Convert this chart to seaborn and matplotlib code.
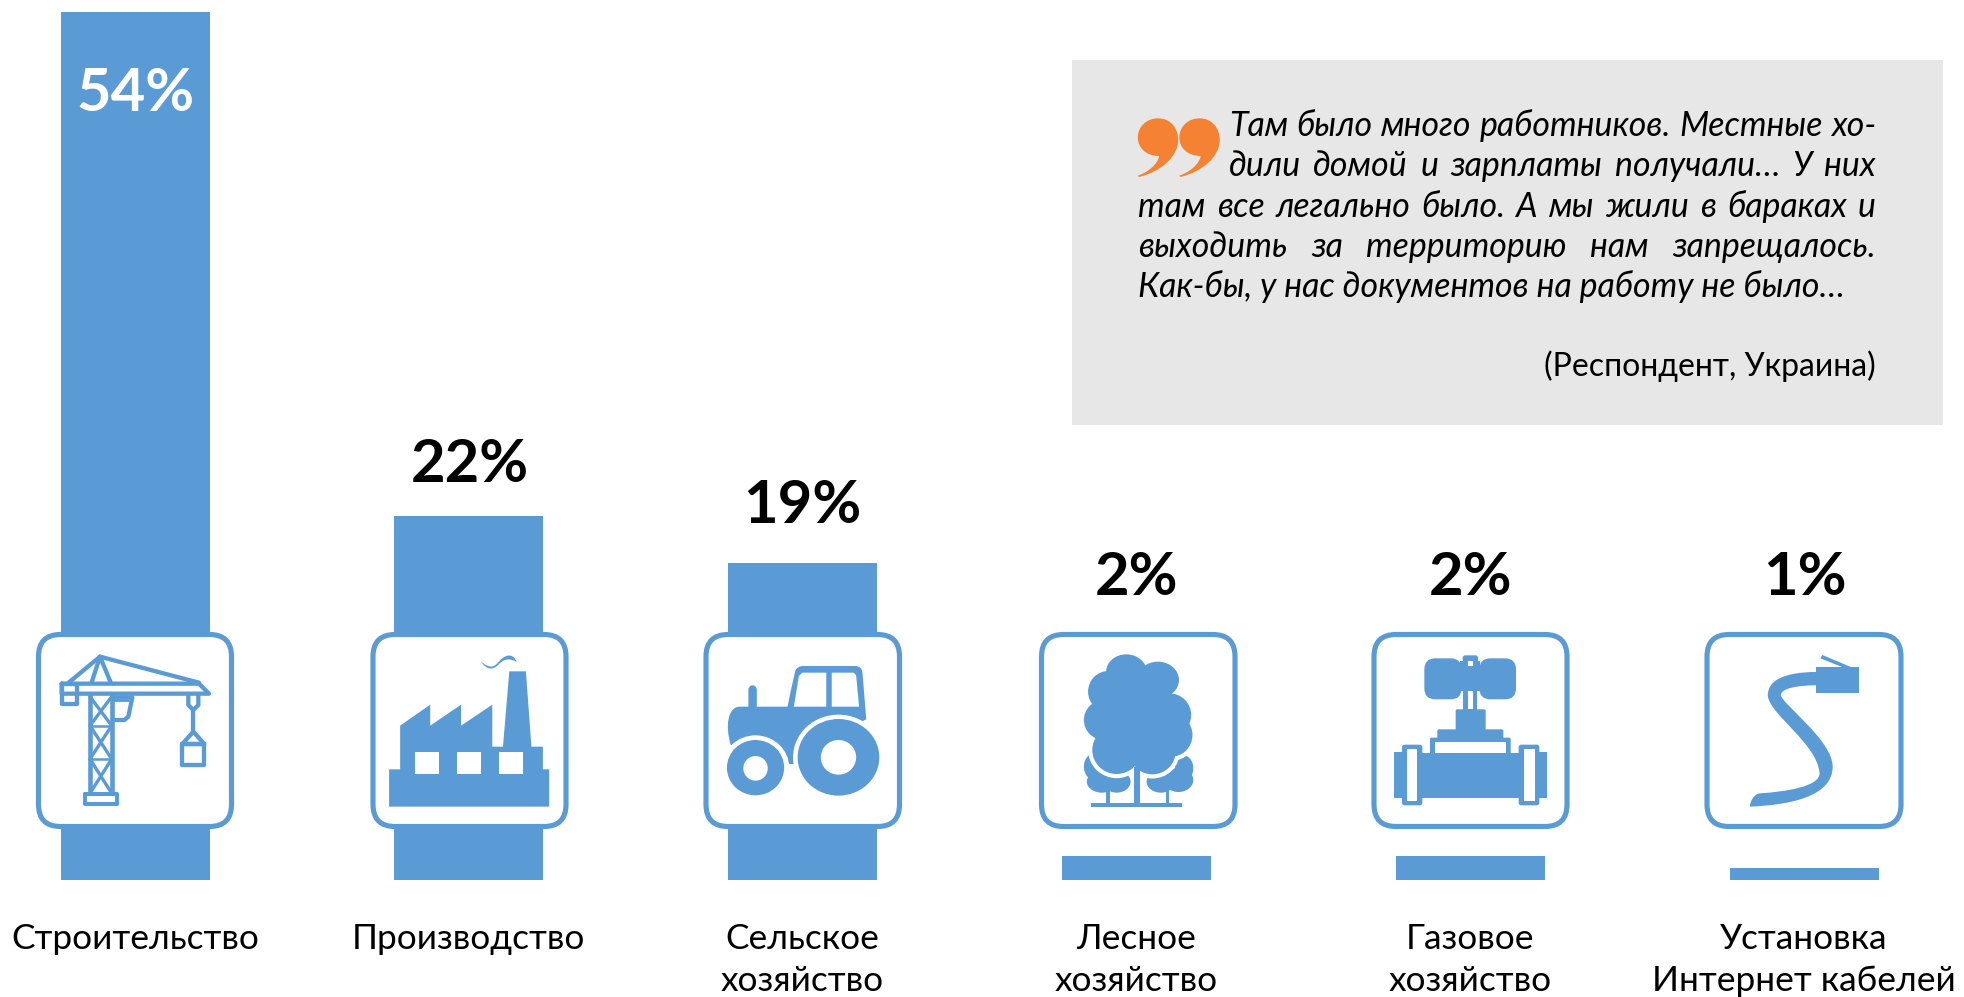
import numpy as np
import pandas as pd
import matplotlib
matplotlib.use("Agg")
import matplotlib.pyplot as plt
import seaborn as sns
from matplotlib.path import Path
from matplotlib.patches import PathPatch, Rectangle, Ellipse, FancyBboxPatch, Polygon

categories = ["Строительство", "Производство", "Сельское\nхозяйство", "Лесное\nхозяйство",
              "Газовое\nхозяйство", "Установка\nИнтернет кабелей"]
percent_labels = ["54%", "22%", "19%", "2%", "2%", "1%"]
# bar heights as drawn in the picture (the source infographic is not strictly to scale)
bar_heights = [54.0, 22.6, 19.7, 1.45, 1.45, 0.7]
quote_lines = ["Там было много работников. Местные хо-",
               "дили домой и зарплаты получали… У них",
               "там все легально было. А мы жили в бараках и",
               "выходить за территорию нам запрещалось.",
               "Как-бы, у нас документов на работу не было…"]
quote_source = "(Респондент, Украина)"

BLUE = "#5B9BD5"
ORANGE = "#F58233"
GREY = "#E7E7E7"
W, H = 1964, 997
BASE = 879.5
FONT = ["Lato", "Open Sans", "DejaVu Sans"]

sns.set_theme(style="white")
plt.rcParams["font.family"] = FONT
fig = plt.figure(figsize=(W / 100, H / 100), dpi=100, facecolor="white")

ax = fig.add_axes([0, (H - BASE) / H, 1, BASE / H])
df = pd.DataFrame({"cat": categories, "val": bar_heights})
sns.barplot(data=df, x="cat", y="val", color=BLUE, saturation=1, width=149 / 333.8, linewidth=0, ax=ax)
ax.set_xlim((0 - 135) / 333.8, (W - 135) / 333.8)
ax.set_ylim(0, BASE / 16.07)
ax.set_xlabel(""); ax.set_ylabel(""); ax.set_yticks([])
ax.tick_params(axis="x", length=0, pad=31, labelsize=25.4, labelcolor="black")
for t in ax.get_xticklabels():
    t.set_linespacing(1.42)
sns.despine(ax=ax, left=True, bottom=True, top=True, right=True)
ax.patch.set_alpha(0)

ov = fig.add_axes([0, 0, 1, 1], zorder=5)
ov.set_xlim(0, W); ov.set_ylim(H, 0); ov.axis("off"); ov.patch.set_alpha(0)

# ---- percent labels
label_pos = [(136, 94, "white"), (469.5, 465, "black"), (802.5, 506, "black"),
             (1137, 578, "black"), (1470.5, 578, "black"), (1805, 578, "black")]
for (x, y, c), s in zip(label_pos, percent_labels):
    ov.text(x, y, s, ha="center", va="center", fontsize=43, fontweight="bold", color=c)

# ---- quote panel
ov.add_patch(Rectangle((1072, 60), 871, 365, fc=GREY, ec="none"))
renderer = fig.canvas.get_renderer()
QS = 24.4

def word_width(s):
    t = ov.text(0, 0, s, fontsize=QS, style="italic")
    bb = t.get_window_extent(renderer)
    t.remove()
    return bb.width

left = [1229, 1229, 1138.5, 1138.5, 1138.5]
base_y = [136.5, 176.5, 216.5, 256.5, 296.5]
for i, line_txt in enumerate(quote_lines):
    words = line_txt.split()
    if i == 4:
        ov.text(left[i], base_y[i], line_txt, fontsize=QS, style="italic", color="black", va="baseline")
        continue
    ww = [word_width(w) for w in words]
    gap = (1876 - left[i] - sum(ww)) / (len(words) - 1)
    x = left[i]
    for w, wd in zip(words, ww):
        ov.text(x, base_y[i], w, fontsize=QS, style="italic", color="black", va="baseline")
        x += wd + gap
ov.text(1876, 376, quote_source, fontsize=23, color="black", ha="right", va="baseline")

# ---- icon frames
frames = [(36, 234), (370.5, 568.5), (703.5, 902), (1039, 1237.5), (1371.5, 1569.5), (1704.5, 1903.5)]
for l, r in frames:
    ov.add_patch(FancyBboxPatch((l + 2.5 + 20, 634.5 + 20), r - l - 5 - 40, 192 - 40,
                                boxstyle="round,pad=20,rounding_size=22", fc="white", ec=BLUE, lw=3.7))

# crop coordinates -> pixels
def mk(xoff, width, yoff=600):
    k = 1568 / width
    return (lambda x: xoff + x / k), (lambda y: yoff + y / 3), k

def mk3(xoff, yoff):
    return (lambda x: xoff + x / 3), (lambda y: yoff + y / 3), 3

def poly(pts, T, c=BLUE, **kw):
    fx, fy, _ = T
    ov.add_patch(Polygon([(fx(x), fy(y)) for x, y in pts], closed=True, fc=c, ec="none", **kw))

def rect(x0, y0, x1, y1, T, c=BLUE):
    poly([(x0, y0), (x1, y0), (x1, y1), (x0, y1)], T, c)

def rrect(x0, y0, x1, y1, T, r=10, c=BLUE):
    fx, fy, _ = T
    X0, Y0, X1, Y1 = fx(x0), fy(y0), fx(x1), fy(y1)
    ov.add_patch(FancyBboxPatch((X0 + r, Y0 + r), X1 - X0 - 2 * r, Y1 - Y0 - 2 * r,
                                boxstyle=f"round,pad={r},rounding_size={r}", fc=c, ec="none"))

def ell(cx, cy, rx, ry, T, c=BLUE, halo=0):
    fx, fy, k = T
    ov.add_patch(Ellipse((fx(cx), fy(cy)), 2 * rx / k, 2 * ry / 3, fc=c,
                         ec="white" if halo else "none", lw=halo))

def line(pts, T, lw=3.1, closed=False):
    fx, fy, _ = T
    xy = [(fx(x), fy(y)) for x, y in pts]
    if closed:
        xy.append(xy[0])
    ov.plot(*zip(*xy), color=BLUE, lw=lw, solid_joinstyle="round", solid_capstyle="round")

def curve(start, segs, T, c=BLUE):
    fx, fy, _ = T
    v = [(fx(start[0]), fy(start[1]))]
    codes = [Path.MOVETO]
    for a, b, d in segs:
        v += [(fx(p[0]), fy(p[1])) for p in (a, b, d)]
        codes += [Path.CURVE4] * 3
    v.append(v[0]); codes.append(Path.CLOSEPOLY)
    ov.add_patch(PathPatch(Path(v, codes), fc=c, ec="none"))

# orange quotation mark (graphic)
T = mk(1060, 904, 50)
for dx in (0, 72):
    curve((170 + dx, 205), [((192 + dx, 205), (205 + dx, 235), (205 + dx, 270)),
                            ((205 + dx, 320), (175 + dx, 365), (137 + dx, 381)),
                            ((136 + dx, 380), (136 + dx, 378), (135 + dx, 377)),
                            ((155 + dx, 365), (170 + dx, 340), (172 + dx, 318)),
                            ((150 + dx, 318), (135 + dx, 295), (135 + dx, 262)),
                            ((135 + dx, 230), (150 + dx, 205), (170 + dx, 205))], T, ORANGE)

# crane
T = mk3(45, 640)
line([(50, 131), (462, 131), (492, 161), (50, 161)], T, closed=True)
line([(50, 131), (97, 131), (97, 193), (50, 193)], T, closed=True)
line([(72, 127), (165, 50), (462, 128)], T)
line([(140, 127), (165, 50), (197, 127)], T)
line([(135, 165), (135, 460)], T, lw=3.3); line([(200, 165), (200, 460)], T, lw=3.3)
for y0, y1 in [(170, 257), (257, 357), (357, 460)]:
    line([(135, y0), (200, y1)], T, lw=2.4); line([(200, y0), (135, y1)], T, lw=2.4)
    line([(135, y1), (200, y1)], T, lw=1.8)
line([(120, 462), (216, 462), (216, 492), (120, 492)], T, lw=2.9, closed=True)
line([(207, 172), (262, 172), (250, 230), (238, 240), (207, 240)], T)
line([(207, 180), (250, 180)], T, lw=2.0)
line([(430, 165), (430, 195), (445, 210), (460, 195), (460, 165)], T)
line([(445, 210), (445, 275)], T)
line([(445, 275), (412, 312), (478, 312)], T, closed=True)
line([(412, 312), (478, 312), (478, 375), (412, 375)], T, closed=True)

# factory
T = mk(0, 620)
poly([(984, 620), (984, 508), (1012, 508), (1012, 377), (1088, 314), (1088, 377), (1166, 314),
      (1166, 377), (1245, 314), (1245, 440), (1272, 440), (1288, 214), (1330, 214), (1344, 440),
      (1373, 440), (1373, 508), (1389, 508), (1389, 620)], T)
for a, b in [(1050, 1110), (1155, 1216), (1262, 1323)]:
    rect(a, 457, b, 523, T, "white")
curve((1216, 184), [((1240, 208), (1250, 203), (1265, 180)), ((1285, 158), (1300, 165), (1307, 186)),
                    ((1290, 174), (1275, 176), (1262, 192)), ((1245, 214), (1230, 208), (1216, 184))], T)

# tractor
T = mk(660, 660)
curve((168, 435), [((155, 380), (160, 320), (190, 320)), ((195, 320), (205, 320), (210, 320)),
                   ((210, 300), (210, 285), (210, 268)), ((212, 252), (228, 252), (230, 268)),
                   ((230, 285), (230, 300), (230, 320)), ((260, 320), (280, 320), (303, 320)),
                   ((308, 285), (315, 250), (321, 215)), ((323, 205), (330, 198), (340, 198)),
                   ((380, 198), (420, 198), (462, 198)), ((475, 198), (480, 205), (481, 218)),
                   ((484, 265), (487, 310), (490, 358)), ((420, 400), (370, 440), (318, 490)),
                   ((270, 480), (220, 455), (168, 435))], T)
rect(300, 440, 320, 492, T)
poly([(318, 320), (330, 228), (338, 218), (395, 218), (395, 320)], T, "white")
poly([(408, 218), (460, 218), (466, 226), (473, 320), (408, 320)], T, "white")
ell(424, 472, 108, 128, T, "white"); ell(424, 472, 97, 115, T); ell(424, 472, 42, 52, T, "white")
ell(227, 503, 80, 97, T, "white"); ell(227, 503, 68, 83, T); ell(227, 505, 29, 37, T, "white")

# tree
T = mk(660, 660)
rect(1060, 570, 1068, 612, T); rect(1202, 570, 1210, 612, T)
for e in [(1035, 500, 28, 42), (1050, 545, 36, 33), (1085, 545, 33, 33),
          (1245, 505, 22, 38), (1232, 540, 35, 36), (1190, 545, 34, 33)]:
    ell(*e, T)
canopy = [(1108, 215, 48, 52), (1183, 240, 50, 55), (1065, 275, 48, 62), (1210, 345, 52, 65),
          (1055, 360, 48, 60), (1215, 405, 50, 65), (1085, 450, 58, 72), (1170, 455, 55, 68),
          (1130, 350, 100, 130)]
for e in canopy:
    ell(*e, T, halo=6)
for e in canopy:
    ell(*e, T)
rect(1125, 500, 1140, 612, T); rect(1025, 610, 1240, 620, T)

# valve
T = mk3(1380, 640)
rrect(133, 55, 245, 178, T, r=11); rrect(298, 55, 408, 178, T, r=11)
rect(240, 64, 300, 152, T)
rrect(248, 46, 294, 85, T, r=2.5); rect(263, 63, 278, 78, T, "white")
rect(250, 150, 292, 212, T); rect(263, 152, 278, 208, T, "white")
rrect(227, 208, 317, 272, T, r=1.5); rrect(172, 268, 370, 298, T, r=1.5); rrect(150, 293, 392, 345, T, r=1.5)
rect(165, 307, 378, 338, T, "white")
rect(125, 338, 418, 475, T)
rect(42, 337, 66, 473, T); rrect(66, 314, 127, 496, T, r=2.5); rect(80, 328, 112, 482, T, "white")
rect(478, 337, 500, 473, T); rrect(416, 314, 478, 496, T, r=2.5); rect(432, 328, 464, 482, T, "white")

# cable
T = mk(1340, 624)
rect(1197, 202, 1304, 280, T)
poly([(1212, 165), (1288, 203), (1270, 205), (1207, 175)], T)
curve((1197, 216), [((1110, 216), (1075, 245), (1075, 285)), ((1075, 340), (1200, 430), (1205, 520)),
                    ((1205, 560), (1120, 575), (1055, 580)), ((1040, 582), (1030, 605), (1030, 620)),
                    ((1130, 615), (1238, 590), (1238, 500)), ((1238, 420), (1108, 310), (1108, 285)),
                    ((1108, 265), (1150, 256), (1197, 256))], T)

fig.savefig("out.png", dpi=100, facecolor="white")
